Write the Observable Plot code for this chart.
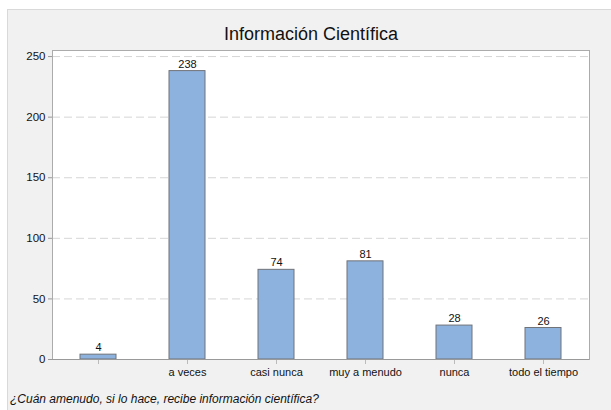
<!DOCTYPE html>
<html>
<head>
<meta charset="utf-8">
<script src="https://cdn.jsdelivr.net/npm/d3@7"></script>
<script src="https://cdn.jsdelivr.net/npm/@observablehq/plot@0.6"></script>
<style>
  html, body { margin: 0; padding: 0; background: #ffffff; }
  body { width: 611px; height: 410px; position: relative; overflow: hidden;
         font-family: Helvetica, Arial, "Liberation Sans", sans-serif; }
  #panel { position: absolute; left: 7px; top: 9px; width: 610px; height: 410px;
           background: #f1f1f1; border: 1px solid #d9d9d9; box-sizing: border-box; }
  #title { position: absolute; left: 0; width: 622px; top: 24px; text-align: center;
           font-size: 18px; color: #111; }
  #chart { position: absolute; left: 0; top: 44px; }
  #caption { position: absolute; left: 10px; top: 392px; font-size: 12px; font-style: italic; color: #111; }
</style>
</head>
<body>
<div id="panel"></div>
<div id="title">Información Científica</div>
<div id="chart"></div>
<div id="caption">¿Cuán amenudo, si lo hace, recibe información científica?</div>
<script>
const categories = ["", "a veces", "casi nunca", "muy a menudo", "nunca", "todo el tiempo"];
const counts = [4, 238, 74, 81, 28, 26];
const yTicks = [0, 50, 100, 150, 200, 250];

const data = categories.map((c, i) => ({category: c, count: counts[i]}));

const chart = Plot.plot({
  width: 611,
  height: 340,
  marginLeft: 52,
  marginRight: 22,
  marginTop: 6,
  marginBottom: 25,
  style: {background: "transparent", fontSize: "11px", fontFamily: "Helvetica, Arial, 'Liberation Sans', sans-serif", color: "#111"},
  x: {domain: categories, paddingInner: 0.6, paddingOuter: 0.3, label: null},
  y: {domain: [0, 255], label: null},
  marks: [
    Plot.frame({fill: "white", stroke: null}),
    Plot.gridY(yTicks.filter(d => d > 0), {stroke: "#d6d6d6", strokeOpacity: 1, strokeDasharray: "8,4", strokeWidth: 1}),
    Plot.barY(data, {x: "category", y: "count", fill: "#8eb2de", stroke: "#707378", strokeWidth: 1}),
    Plot.text(data, {x: "category", y: "count", text: d => String(d.count), dy: -7, fontSize: 11, fill: "#111"}),
    Plot.frame({stroke: "#ababab"}),
    Plot.axisX({tickSize: 5, tickPadding: 4, stroke: "#bbb", fontSize: 11}),
    Plot.axisY({ticks: yTicks, tickSize: 4, tickPadding: 3, stroke: "#999", fontSize: 11.5}),
    Plot.ruleY([0], {stroke: "#999"})
  ]
});
document.getElementById("chart").appendChild(chart);
</script>
</body>
</html>
